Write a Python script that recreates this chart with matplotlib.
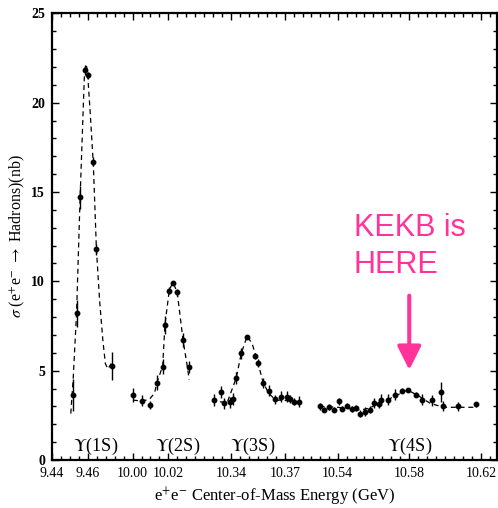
import numpy as np
import matplotlib
matplotlib.use("Agg")
import matplotlib.pyplot as plt
from matplotlib.ticker import FixedLocator, FixedFormatter

# ============================
# data (energy in GeV, cross section in nb)
# ============================
e_1s = [9.4515, 9.4537, 9.4557, 9.4583, 9.4601, 9.4631, 9.4648, 9.4736]
s_1s = [3.64, 8.22, 14.71, 21.82, 21.54, 16.69, 11.79, 5.27]
err_1s = [0.9, 0.75, 0.65, 0.3, 0.2, 0.25, 0.3, 0.8]

e_2s = [10.0002, 10.0052, 10.0100, 10.0137, 10.0168, 10.0181, 10.0205, 10.0225,
        10.0249, 10.0282, 10.0317]
s_2s = [3.64, 3.31, 3.08, 4.31, 5.23, 7.55, 9.47, 9.88, 9.38, 6.72, 5.19]
err_2s = [0.37, 0.3, 0.22, 0.42, 0.42, 0.5, 0.2, 0.1, 0.2, 0.37, 0.33]

e_3s = [10.3306, 10.3343, 10.3361, 10.3393, 10.3411, 10.3429, 10.3457, 10.3490,
        10.3533, 10.3550, 10.3579, 10.3611, 10.3648, 10.3681, 10.3712, 10.3727,
        10.3753, 10.3780]
s_3s = [3.36, 3.79, 3.17, 3.23, 3.40, 4.60, 5.97, 6.90, 5.82, 5.45, 4.32, 3.88,
        3.40, 3.54, 3.54, 3.41, 3.26, 3.26]
err_3s = [0.35, 0.33, 0.3, 0.3, 0.33, 0.33, 0.3, 0.1, 0.15, 0.23, 0.28, 0.3,
          0.25, 0.3, 0.3, 0.2, 0.2, 0.3]

e_4s = [10.5299, 10.5326, 10.5354, 10.5382, 10.5406, 10.5424, 10.5452, 10.5479,
        10.5505, 10.5524, 10.5553, 10.5581, 10.5603, 10.5631, 10.5640, 10.5681,
        10.5720, 10.5760, 10.5791, 10.5840, 10.5871, 10.5926, 10.5977, 10.5990,
        10.6074, 10.6170]
s_4s = [3.00, 2.82, 2.97, 2.82, 3.28, 2.88, 3.04, 2.86, 2.91, 2.60, 2.69, 2.82,
        3.19, 3.14, 3.38, 3.38, 3.66, 3.88, 3.94, 3.66, 3.38, 3.34, 3.79, 3.02,
        3.02, 3.12]
err_4s = [0.2, 0.15, 0.15, 0.15, 0.2, 0.15, 0.15, 0.15, 0.15, 0.2, 0.25, 0.2,
          0.3, 0.25, 0.3, 0.3, 0.3, 0.15, 0.1, 0.15, 0.3, 0.3, 0.55, 0.3,
          0.25, 0.15]

# dashed fit curves
fit_e_1s = [9.4505, 9.4518, 9.4537, 9.4557, 9.4572, 9.4583, 9.4594, 9.4601,
            9.4613, 9.4631, 9.4648, 9.4666, 9.4684, 9.4698, 9.4712, 9.4731]
fit_s_1s = [2.6, 4.5, 8.2, 14.7, 19.0, 22.1, 22.0, 21.3, 19.5, 16.5, 11.8, 8.9,
            6.7, 5.4, 5.1, 5.4]
fit_e_2s = [10.0002, 10.0055, 10.0094, 10.0122, 10.0137, 10.0168, 10.0181,
            10.0205, 10.0225, 10.0249, 10.0282, 10.0306, 10.0316]
fit_s_2s = [3.35, 3.3, 3.4, 3.73, 4.36, 5.26, 7.6, 9.5, 9.94, 9.4, 6.7, 5.2, 4.5]
fit_e_3s = [10.3338, 10.3378, 10.3429, 10.3457, 10.3490, 10.3518, 10.3550,
            10.3579, 10.3611, 10.3648, 10.3722, 10.3758]
fit_s_3s = [3.26, 3.2, 4.6, 5.97, 6.94, 6.5, 5.45, 4.32, 3.73, 3.36, 3.32, 3.26]
fit_e_4s = [10.5299, 10.5400, 10.5529, 10.5576, 10.5640, 10.5714, 10.5789,
            10.5844, 10.5917, 10.5992, 10.6176]
fit_s_4s = [3.0, 2.95, 2.8, 2.9, 3.2, 3.54, 3.92, 3.64, 3.17, 2.95, 2.95]

peak_names = [r"$\Upsilon$(1S)", r"$\Upsilon$(2S)", r"$\Upsilon$(3S)", r"$\Upsilon$(4S)"]
peak_label_e = [9.4644, 10.025, 10.352, 10.58]

major_ticks = [9.44, 9.46, 10.00, 10.02, 10.34, 10.37, 10.54, 10.58, 10.62]

# visible energy windows of the broken axis
SEGMENTS = [(9.44, 9.479), (9.994, 10.037), (10.322, 10.384), (10.5245, 10.629)]
PINK = "#ff3399"

# ============================
# broken x axis as a piecewise linear scale
# ============================
xp, up = [], []
u = 0.0
for a, b in SEGMENTS:
    xp += [a, b]
    up += [u, u + (b - a)]
    u += (b - a) + 1e-6
xp = np.array(xp)
up = np.array(up)


def forward(e):
    return np.interp(e, xp, up)


def inverse(v):
    return np.interp(v, up, xp)


plt.rcParams['font.family'] = ['Liberation Serif', 'DejaVu Serif']
plt.rcParams['mathtext.fontset'] = 'stix'

fig = plt.figure(figsize=(4.98, 5.08), dpi=100)
ax = fig.add_axes([52 / 498, 48 / 508, 445 / 498, 446.7 / 508])
ax.set_xscale('function', functions=(forward, inverse))

for fe, fs in [(fit_e_1s, fit_s_1s), (fit_e_2s, fit_s_2s),
               (fit_e_3s, fit_s_3s), (fit_e_4s, fit_s_4s)]:
    ax.plot(fe, fs, color='black', lw=0.9, ls=(0, (4, 3)))

for ee, ss, er in [(e_1s, s_1s, err_1s), (e_2s, s_2s, err_2s),
                   (e_3s, s_3s, err_3s), (e_4s, s_4s, err_4s)]:
    ax.errorbar(ee, ss, yerr=er, fmt='o', color='black', ms=3.2,
                elinewidth=1.0, capsize=0)

for name, pe in zip(peak_names, peak_label_e):
    ax.text(pe, 0.75, name, ha='center', va='center', fontsize=13)

ax.set_xlim(SEGMENTS[0][0], SEGMENTS[-1][1])
ax.set_ylim(0, 25)

minor = []
for a, b in SEGMENTS:
    minor += list(np.arange(np.ceil(a / 0.005 - 1e-6) * 0.005, b, 0.005))
ax.xaxis.set_major_locator(FixedLocator(major_ticks))
ax.xaxis.set_major_formatter(FixedFormatter(["%.2f" % t for t in major_ticks]))
ax.xaxis.set_minor_locator(FixedLocator(minor))
ax.set_yticks([0, 5, 10, 15, 20, 25])
ax.set_yticks(range(0, 26), minor=True)

ax.tick_params(which='both', direction='in', top=True, right=True, width=1.0)
ax.tick_params(which='major', length=5)
ax.tick_params(which='minor', length=3)
ax.tick_params(axis='x', labelsize=10, pad=5)
ax.tick_params(axis='y', labelsize=10, pad=5)
for lab in ax.get_yticklabels():
    lab.set_fontweight('bold')
for sp in ax.spines.values():
    sp.set_linewidth(1.6)

ax.set_xlabel(r"e$^{+}$e$^{-}$ Center-of-Mass Energy (GeV)", fontsize=12, labelpad=4)
ax.set_ylabel(r"$\sigma$ (e$^{+}$e$^{-}$ $\rightarrow$ Hadrons)(nb)", fontsize=11.5, labelpad=3)

ax.text(10.549, 13.8, "KEKB is\nHERE", color=PINK, fontsize=22,
        family=['Liberation Sans', 'DejaVu Sans'], ha='left', va='top',
        linespacing=1.3)
ax.annotate("", xy=(10.580, 5.04), xytext=(10.580, 9.2),
            arrowprops=dict(arrowstyle='-|>,head_length=0.72,head_width=0.36',
                            color=PINK, lw=2.9, mutation_scale=20,
                            shrinkA=0, shrinkB=0))

fig.savefig("out.png", dpi=100)
